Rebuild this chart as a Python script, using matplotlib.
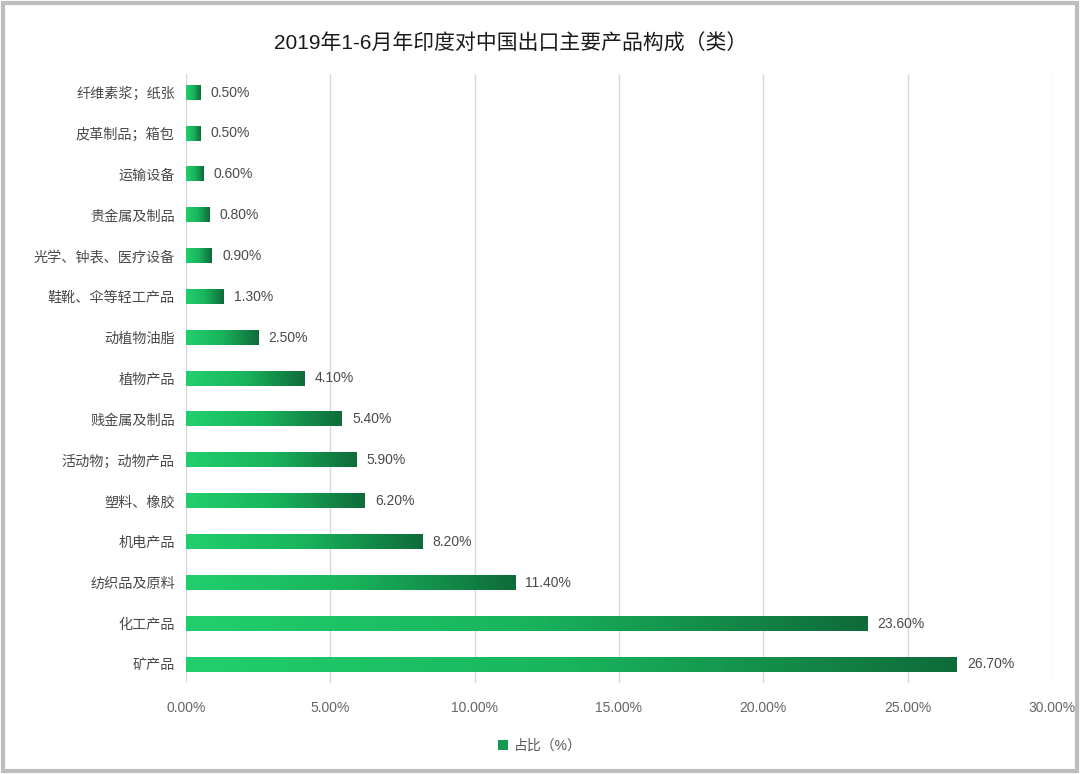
import matplotlib.pyplot as plt
import numpy as np
from matplotlib.colors import LinearSegmentedColormap
from matplotlib.patches import Rectangle, Patch

plt.rcParams['font.family'] = ['Liberation Sans', 'Noto Sans CJK SC', 'DejaVu Sans']

# 数据（自下而上）
categories = ["矿产品", "化工产品", "纺织品及原料", "机电产品", "塑料、橡胶",
              "活动物；动物产品", "贱金属及制品", "植物产品", "动植物油脂",
              "鞋靴、伞等轻工产品", "光学、钟表、医疗设备", "贵金属及制品",
              "运输设备", "皮革制品；箱包", "纤维素浆；纸张"]
shares = [26.7, 23.6, 11.4, 8.2, 6.2, 5.9, 5.4, 4.1, 2.5, 1.3, 0.9, 0.8, 0.6, 0.5, 0.5]
xticks = [0, 5, 10, 15, 20, 25, 30]

cmap = LinearSegmentedColormap.from_list("grn", ["#22cf6e", "#19b45c", "#0f6b3a"])

fig = plt.figure(figsize=(10.8, 7.74), dpi=100)
ax = fig.add_axes([0.1722, 0.117, 0.8018, 0.788])

bar_h = 0.35
grad = np.linspace(0, 1, 256).reshape(1, -1)
for i, v in enumerate(shares):
    ax.imshow(grad, extent=(0, v, i - bar_h / 2, i + bar_h / 2), cmap=cmap,
              aspect="auto", origin="lower", zorder=3, interpolation="bicubic")
    ax.text(v + 0.35, i, f"{v:.2f}%", va="center", ha="left",
            fontsize=10, color="#4a4a4a", zorder=4)

ax.set_xlim(0, 30)
ax.set_ylim(-0.465, len(categories) - 1 + 0.465)
ax.set_yticks(range(len(categories)))
ax.set_yticklabels(categories, fontsize=10.2, color="#4a4a4a")
ax.set_xticks(xticks)
ax.set_xticklabels([f"{t:.2f}%" for t in xticks], fontsize=10, color="#666666")
ax.tick_params(length=0, pad=8)
ax.tick_params(axis="x", pad=13)
ax.grid(axis="x", color="#d9d9d9", linewidth=1, zorder=0)
for s in ax.spines.values():
    s.set_visible(False)

fig.text(0.473, 0.943, "2019年1-6月年印度对中国出口主要产品构成（类）",
         ha="center", va="center", fontsize=15, color="#1a1a1a")

fig.legend(handles=[Patch(facecolor="#149a50", label="占比（%）")],
           loc="center", bbox_to_anchor=(0.5, 0.036), frameon=False,
           fontsize=10, handlelength=0.7, handleheight=0.7, handletextpad=0.4,
           labelcolor="#595959")

fig.patches.append(Rectangle((0.003, 0.004), 0.994, 0.992, transform=fig.transFigure,
                             fill=False, edgecolor="#bdbdbd", linewidth=3))

fig.savefig("out.png", dpi=100)
